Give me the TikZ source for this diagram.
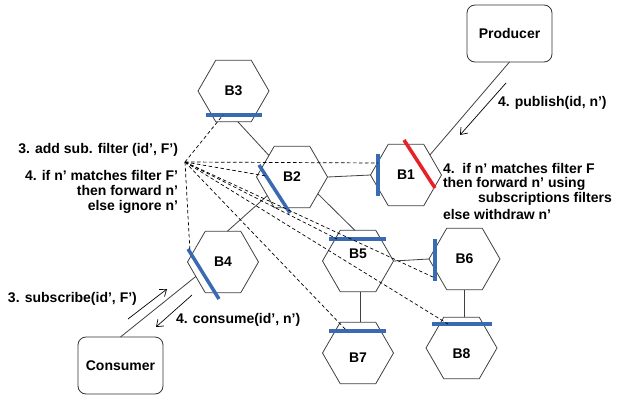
\documentclass[tikz,border=0pt]{standalone}
\usepackage{fontspec}
\setmainfont{Liberation Sans}
\usetikzlibrary{shapes.geometric,arrows.meta}
\definecolor{filterblue}{RGB}{58,106,178}
\definecolor{filterred}{RGB}{232,32,40}
\tikzset{
    font = \fontsize{14}{15}\selectfont\bfseries,
    every node/.style = {
        inner sep = 0pt,
        outer sep = 0pt
    },
    hex/.style = {
        regular polygon,
        regular polygon sides = 6,
        minimum size = 71pt,
        draw = black!75,
        line width = 0.8pt
    },
    client/.style = {
        draw = black!80,
        rounded corners = 8pt,
        minimum width = 85pt,
        minimum height = 57pt,
        line width = 0.8pt
    },
    link/.style = {
        draw = black!75,
        line width = 0.8pt
    },
    filter/.style = {
        filterblue,
        line width = 3.5pt
    },
    probe/.style = {
        dash pattern = on 3.5pt off 2.5pt,
        line width = 0.7pt
    },
    msg/.style = {
        ->,
        > = {Straight Barb[length=6pt, width=9pt]},
        line width = 0.7pt
    },
    note left/.style = {
        anchor = east,
        align = right
    },
    note right/.style = {
        anchor = west,
        align = left
    }
}

\begin{document}
\begin{tikzpicture}
    \useasboundingbox (0,0) rectangle (633pt,-399pt);
    \node (B3) at (233.5pt,-91pt) [hex] {B3};
    \node (B2) at (292pt,-177pt) [hex] {B2};
    \node (B1) at (406pt,-175pt) [hex] {B1};
    \node (B4) at (223pt,-262pt) [hex] {B4};
    \node (B5) at (358pt,-261pt) [hex, label={[yshift=7pt]center:B5}] {};
    \node (B6) at (464.5pt,-259pt) [hex] {B6};
    \node (B7) at (358pt,-353pt) [hex, label={[yshift=-5pt]center:B7}] {};
    \node (B8) at (461.5pt,-348pt) [hex, label={[yshift=-6pt]center:B8}] {};
    \node (producer) at (509.5pt,-33.5pt) [client] {Producer};
    \node (consumer) at (120.5pt,-365.5pt) [client] {Consumer};
    \draw[link] (B3.-82) -- (B2.137);
    \draw[link] (B2.0) -- (B1.180);
    \draw[link] (B2.-143) -- (B4.82);
    \draw[link] (B2.-33) -- (B5.96);
    \draw[link] (B5.0) -- (B6.180);
    \draw[link] (B5.-85) -- (B7.85);
    \draw[link] (B6.south) -- (B6.south |- B8.north);
    \draw[link] (producer.south) -- (B1.40);
    \draw[link] (consumer.north) -- (B4.-152);
    \draw[filter] ([shift={(-28pt,-24pt)}]B3.center) -- ([shift={(28pt,-24pt)}]B3.center);
    \draw[filter] ([shift={(-33pt,12pt)}]B2.center) -- ([shift={(-2pt,-36pt)}]B2.center);
    \draw[filter] ([shift={(-28pt,21pt)}]B1.center) -- ([shift={(-28pt,-21pt)}]B1.center);
    \draw[filter, filterred] ([shift={(-2pt,35pt)}]B1.center) -- ([shift={(29pt,-13pt)}]B1.center);
    \draw[filter] ([shift={(-35pt,13pt)}]B4.center) -- ([shift={(-4pt,-37pt)}]B4.center);
    \draw[filter] ([shift={(-29pt,22pt)}]B5.center) -- ([shift={(28pt,22pt)}]B5.center);
    \draw[filter] ([shift={(-29.5pt,20pt)}]B6.center) -- ([shift={(-29.5pt,-22pt)}]B6.center);
    \draw[filter] ([shift={(-29pt,22pt)}]B7.center) -- ([shift={(28pt,22pt)}]B7.center);
    \draw[filter] ([shift={(-29.5pt,24pt)}]B8.center) -- ([shift={(30.5pt,24pt)}]B8.center);
    \coordinate (fo) at (185pt,-162pt);
    \draw[probe] (fo) -- ([shift={(-10.5pt,-24pt)}]B3.center);
    \draw[probe] (fo) -- ([shift={(-28pt,12pt)}]B1.center);
    \draw[probe] (fo) -- ([shift={(-26pt,1pt)}]B2.center);
    \draw[probe] (fo) -- ([shift={(-33pt,10pt)}]B4.center);
    \draw[probe] (fo) -- ([shift={(-21pt,22pt)}]B5.center);
    \draw[probe] (fo) -- ([shift={(-29.5pt,-19pt)}]B6.center);
    \draw[probe] (fo) -- ([shift={(-11pt,22pt)}]B7.center);
    \draw[probe] (fo) -- ([shift={(-13.5pt,24pt)}]B8.center);
    \coordinate (pubA) at (506pt,-83pt);
    \coordinate (pubB) at (460pt,-135pt);
    \coordinate (subA) at (128pt,-319pt);
    \coordinate (subB) at (167pt,-289pt);
    \coordinate (conA) at (192pt,-295pt);
    \coordinate (conB) at (156pt,-327pt);
    \draw[msg] (pubA) -- (pubB);
    \draw[msg] (subA) -- (subB);
    \draw[msg] (conA) -- (conB);
    \node (pubtext) at (498pt,-103pt) [note right] {4. publish(id, n’)};
    \node (subtext) at (8pt,-299pt) [note right] {3. subscribe(id’, F’)};
    \node (context) at (176pt,-320pt) [note right] {4. consume(id’, n’)};
    \node (addtext) at (178pt,-150pt) [note left] {3. add sub. filter (id’, F’)};
    \node (ignoretext) at (178pt,-192pt) [note left] {4. if n’ matches filter F’\\then forward n’\\else ignore n’};
    \node (forwardtext) at (443pt,-191pt) [note right, font=\fontsize{14}{14.5}\selectfont\bfseries] {4.\ \ if n’ matches filter F\\then forward n’ using\\\hspace*{35pt}subscriptions filters\\[2.5pt]else withdraw n’};
\end{tikzpicture}
\end{document}
